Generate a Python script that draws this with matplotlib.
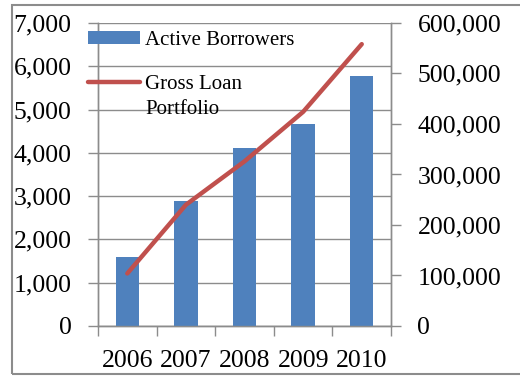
import numpy as np
import matplotlib.pyplot as plt
from matplotlib.patches import Rectangle

# -------------------------------
# Data
# -------------------------------
years = ["2006", "2007", "2008", "2009", "2010"]
borrowers = [1600, 2890, 4100, 4670, 5780]
portfolio = [104000, 240000, 326000, 424000, 558000]

left_ticks = [0, 1000, 2000, 3000, 4000, 5000, 6000, 7000]
right_ticks = [0, 100000, 200000, 300000, 400000, 500000, 600000]

bar_color = "#4F81BD"
line_color = "#C0504D"
grid_color = "#8C8C8C"

plt.rcParams["font.family"] = ["Liberation Serif", "DejaVu Serif"]

fig = plt.figure(figsize=(5.2, 3.76), dpi=100)
ax = fig.add_axes([0.1885, 0.133, 0.5635, 0.806])
ax2 = ax.twinx()

x = np.arange(len(years))
ax.bar(x, borrowers, width=0.4, color=bar_color, zorder=3, label="Active Borrowers")
ax2.plot(x, portfolio, color=line_color, lw=3.2, solid_capstyle="round",
         zorder=4, label="Gross Loan")

ax.set_xlim(-0.5, len(years) - 0.5)
ax.set_ylim(0, 7000)
ax2.set_ylim(0, 600000)

ax.set_yticks(left_ticks)
ax.set_yticklabels([f"{v:,}" for v in left_ticks])
ax2.set_yticks(right_ticks)
ax2.set_yticklabels([f"{v:,}" for v in right_ticks])

# category labels centred, tick marks on the boundaries
ax.set_xticks(x)
ax.set_xticklabels(years)
ax.set_xticks(np.arange(-0.5, len(years)), minor=True)
ax.tick_params(axis="x", which="major", length=0, pad=17, labelsize=18.5)
ax.tick_params(axis="x", which="minor", length=7, color=grid_color, width=1)

ax.tick_params(axis="y", length=7, color=grid_color, width=1, pad=12, labelsize=18.5)
ax2.tick_params(axis="y", length=7, color=grid_color, width=1, pad=12, labelsize=18.5)

ax.yaxis.grid(True, color=grid_color, lw=1, zorder=0)
ax.set_axisbelow(True)

for a in (ax, ax2):
    a.spines["top"].set_visible(False)
    for s in ("left", "right", "bottom"):
        a.spines[s].set_color(grid_color)
        a.spines[s].set_linewidth(1)
ax.patch.set_visible(False)
ax2.patch.set_visible(False)
ax.set_zorder(ax2.get_zorder() - 1)
ax2.set_zorder(2)

# legend
h1, l1 = ax.get_legend_handles_labels()
h2, l2 = ax2.get_legend_handles_labels()
fig.legend(h1 + h2, l1 + l2, loc="upper left", bbox_to_anchor=(0.169, 0.918),
           frameon=False, fontsize=15, handlelength=2.5, handleheight=0.55,
           handletextpad=0.25, labelspacing=1.2, borderpad=0, borderaxespad=0)
fig.text(145 / 520, 1 - 114 / 376, "Portfolio", fontsize=15, va="baseline")

# outer chart border
fig.patches.append(Rectangle((12 / 520, 2 / 376), 1.0, 1 - 7 / 376,
                             transform=fig.transFigure, fill=False,
                             edgecolor=grid_color, lw=1.5))

fig.savefig("out.png", dpi=100)
